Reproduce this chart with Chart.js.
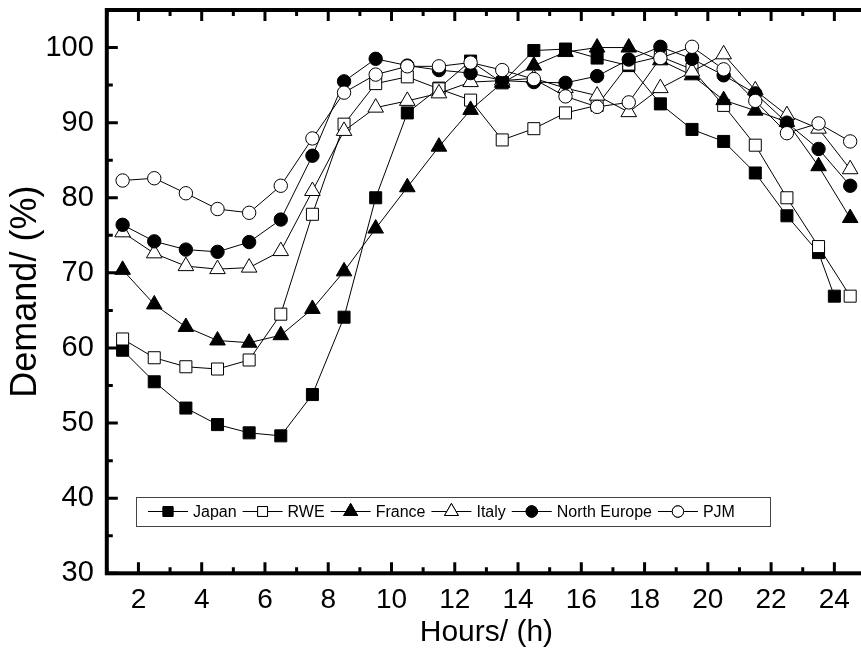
<!DOCTYPE html>
<html lang="en">
<head>
<meta charset="UTF-8">
<title>Daily demand profiles</title>
<style>
  html, body { margin: 0; padding: 0; background: #fff; overflow: hidden; }
  #wrap { width: 876px; height: 654px; }
</style>
<script src="https://cdn.jsdelivr.net/npm/chart.js"></script>
</head>
<body>
<div id="wrap"><canvas id="demand" width="876" height="654"></canvas></div>
<script>
// hourly demand, % of daily peak
const hours      = [1.5, 2.5, 3.5, 4.5, 5.5, 6.5, 7.5, 8.5, 9.5, 10.5, 11.5, 12.5, 13.5, 14.5, 15.5, 16.5, 17.5, 18.5, 19.5, 20.5, 21.5, 22.5, 23.5, 24.5];
const japanHours = [1.5, 2.5, 3.5, 4.5, 5.5, 6.5, 7.5, 8.5, 9.5, 10.5, 11.5, 12.5, 13.5, 14.5, 15.5, 16.5, 17.5, 18.5, 19.5, 20.5, 21.5, 22.5, 23.5, 24];

const japan       = [59.7, 55.5, 52.0, 49.8, 48.7, 48.3, 53.8, 64.1, 80.0, 91.3, 94.6, 98.2, 95.3, 99.6, 99.8, 98.6, 97.6, 92.5, 89.1, 87.5, 83.3, 77.6, 72.7, 66.9];
const rwe         = [61.2, 58.7, 57.5, 57.2, 58.4, 64.5, 77.8, 89.8, 95.2, 96.1, 94.5, 93.0, 87.7, 89.2, 91.3, 92.3, 97.8, 98.8, 97.1, 92.3, 87.0, 80.0, 73.5, 66.9];
const france      = [70.4, 65.8, 62.8, 61.0, 60.7, 61.7, 65.2, 70.2, 75.9, 81.4, 86.8, 91.7, 95.3, 97.6, 99.4, 100.0, 100.0, 98.3, 96.3, 93.0, 91.6, 90.1, 84.2, 77.3];
const italy       = [75.4, 72.6, 70.9, 70.5, 70.7, 72.9, 80.9, 88.9, 92.0, 92.9, 93.9, 95.4, 95.6, 95.9, 94.6, 93.6, 91.4, 94.6, 96.8, 99.1, 94.3, 91.0, 89.2, 83.8];
const northEurope = [76.4, 74.2, 73.1, 72.8, 74.1, 77.1, 85.6, 95.5, 98.5, 97.6, 97.0, 96.6, 95.6, 95.4, 95.3, 96.2, 98.4, 100.1, 98.5, 96.3, 93.9, 90.0, 86.5, 81.6];
const pjm         = [82.3, 82.6, 80.6, 78.5, 78.0, 81.6, 87.9, 94.0, 96.4, 97.5, 97.5, 98.0, 97.0, 95.8, 93.5, 92.1, 92.7, 98.6, 100.1, 97.1, 92.9, 88.6, 89.9, 87.5];

const xTicks = [2, 4, 6, 8, 10, 12, 14, 16, 18, 20, 22, 24];
const xMinor = [1, 3, 5, 7, 9, 11, 13, 15, 17, 19, 21, 23, 25];
const yTicks = [30, 40, 50, 60, 70, 80, 90, 100];
const yMinor = [35, 45, 55, 65, 75, 85, 95];

const FONT = "'Liberation Sans', Arial, sans-serif";

function series(label, xs, ys, style, filled, radius, order) {
  return {
    label: label,
    data: xs.map((x, i) => ({ x: x, y: ys[i] })),
    borderColor: '#000',
    borderWidth: 1,
    pointStyle: style,
    pointRadius: radius,
    pointHoverRadius: radius,
    pointBackgroundColor: filled ? '#000' : '#fff',
    pointBorderColor: '#000',
    pointBorderWidth: 1,
    tension: 0,
    fill: false,
    order: order,
    legendFilled: filled
  };
}

// box frame with inward major/minor ticks
const framePlugin = {
  id: 'frame',
  afterDatasetsDraw(chart) {
    const { ctx, chartArea: a, scales: { x, y } } = chart;
    ctx.save();
    ctx.strokeStyle = '#000';
    ctx.lineWidth = 3;
    ctx.lineCap = 'butt';
    ctx.beginPath();
    xTicks.forEach(v => { const px = x.getPixelForValue(v); ctx.moveTo(px, a.bottom); ctx.lineTo(px, a.bottom - 11); ctx.moveTo(px, a.top); ctx.lineTo(px, a.top + 11); });
    xMinor.forEach(v => { const px = x.getPixelForValue(v); ctx.moveTo(px, a.bottom); ctx.lineTo(px, a.bottom - 6); ctx.moveTo(px, a.top); ctx.lineTo(px, a.top + 6); });
    yTicks.forEach(v => { const py = y.getPixelForValue(v); ctx.moveTo(a.left, py); ctx.lineTo(a.left + 11, py); });
    yMinor.forEach(v => { const py = y.getPixelForValue(v); ctx.moveTo(a.left, py); ctx.lineTo(a.left + 6, py); });
    ctx.stroke();
    ctx.lineWidth = 4;
    ctx.strokeRect(a.left, a.top, a.right - a.left, a.bottom - a.top);
    ctx.restore();
  }
};

// boxed legend inside the plot: line - marker - line, then name
const legendPlugin = {
  id: 'boxLegend',
  afterDraw(chart) {
    const { ctx } = chart;
    const left = 136, top = 497, bottom = 526;
    const mid = (top + bottom) / 2;
    ctx.save();
    ctx.font = '16px ' + FONT;
    ctx.textBaseline = 'middle';
    ctx.fillStyle = '#000';
    let cx = left + 12;
    chart.data.datasets.forEach(ds => {
      ctx.strokeStyle = '#000';
      ctx.lineWidth = 1;
      ctx.beginPath();
      ctx.moveTo(cx, mid);
      ctx.lineTo(cx + 40, mid);
      ctx.stroke();
      const r = ds.pointStyle === 'triangle' ? 8 : ds.pointStyle === 'rect' ? 7 : 5.7;
      ctx.fillStyle = ds.legendFilled ? '#000' : '#fff';
      Chart.helpers.drawPoint(ctx, { pointStyle: ds.pointStyle, radius: r, borderWidth: 1 }, cx + 20, mid);
      ctx.fill();
      ctx.stroke();
      ctx.fillStyle = '#000';
      ctx.fillText(ds.label, cx + 45, mid + 1);
      cx += 45 + ctx.measureText(ds.label).width + 6;
    });
    ctx.strokeStyle = '#444';
    ctx.lineWidth = 1;
    ctx.strokeRect(left + 0.5, top + 0.5, Math.max(cx + 20, 770) - left, bottom - top);
    ctx.restore();
  }
};

new Chart(document.getElementById('demand'), {
  type: 'line',
  data: {
    datasets: [
      series('Japan', japanHours, japan, 'rect', true, 8.5, 5),
      series('RWE', hours, rwe, 'rect', false, 8.5, 4),
      series('France', hours, france, 'triangle', true, 9, 3),
      series('Italy', hours, italy, 'triangle', false, 9, 2),
      series('North Europe', hours, northEurope, 'circle', true, 6.7, 1),
      series('PJM', hours, pjm, 'circle', false, 6.7, 0)
    ]
  },
  options: {
    responsive: false,
    animation: false,
    devicePixelRatio: 1,
    layout: { padding: { top: 6, right: 8, left: 0, bottom: 0 } },
    plugins: { legend: { display: false }, tooltip: { enabled: false } },
    scales: {
      x: {
        type: 'linear',
        min: 1,
        max: 25,
        afterBuildTicks: s => { s.ticks = xTicks.map(v => ({ value: v })); },
        afterFit: s => { s.height = 80.7; s.paddingLeft = 0; s.paddingRight = 0; },
        grid: { display: false, drawTicks: false },
        border: { display: false },
        ticks: { color: '#000', font: { family: FONT, size: 28 }, padding: 10, maxRotation: 0, autoSkip: false },
        title: { display: true, text: 'Hours/ (h)', color: '#000', font: { family: FONT, size: 30 }, padding: { top: 0, bottom: 3 } }
      },
      y: {
        min: 30,
        max: 105,
        afterBuildTicks: s => { s.ticks = yTicks.map(v => ({ value: v })); },
        afterFit: s => { s.width = 106.8; s.paddingTop = 0; s.paddingBottom = 0; },
        grid: { display: false, drawTicks: false },
        border: { display: false },
        ticks: { color: '#000', font: { family: FONT, size: 29 }, padding: 13 },
        title: { display: true, text: 'Demand/ (%)', color: '#000', font: { family: FONT, size: 36 }, padding: { top: 4, bottom: 0 } }
      }
    }
  },
  plugins: [framePlugin, legendPlugin]
});
</script>
</body>
</html>
